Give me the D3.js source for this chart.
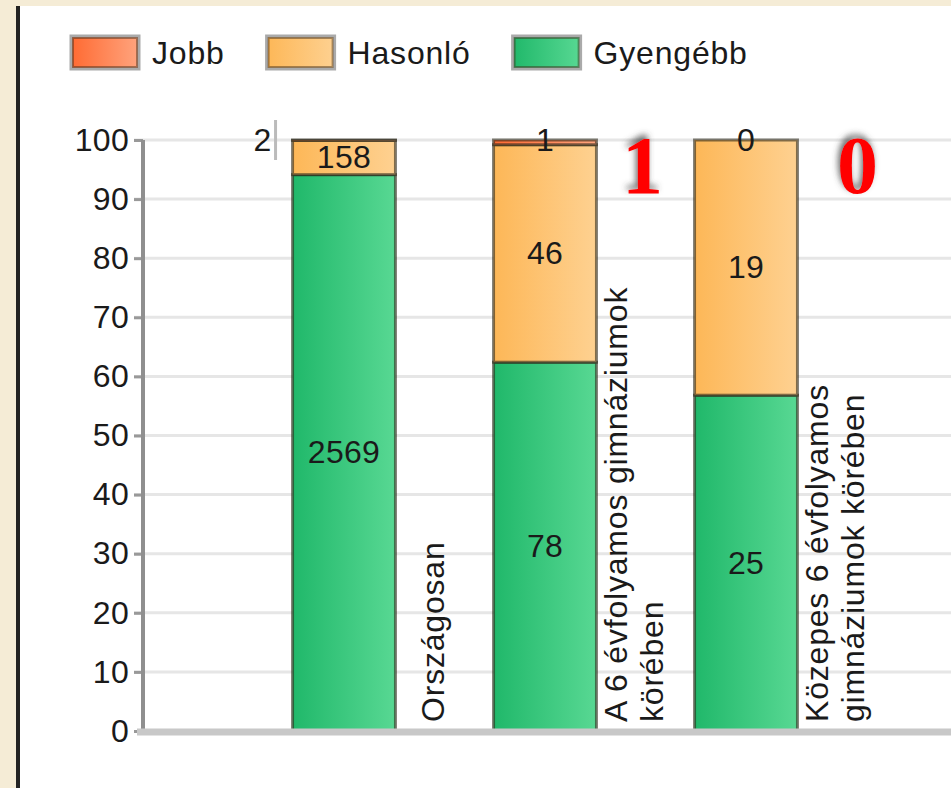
<!DOCTYPE html>
<html>
<head>
<meta charset="utf-8">
<script src="https://cdn.jsdelivr.net/npm/d3@7"></script>
<style>
  html, body { margin: 0; padding: 0; background: #f5ecd6; }
  svg { display: block; }
  text { font-family: "Liberation Sans", Arial, sans-serif; }
</style>
</head>
<body>
<div class="holder"></div>
<script>
// chart data
var categories = [
  ['Országosan'],
  ['A 6 évfolyamos gimnáziumok', 'körében'],
  ['Közepes 6 évfolyamos', 'gimnáziumok körében']
]
var series = ['Gyengébb', 'Hasonló', 'Jobb']
var gyengebb = [2569, 78, 25]
var hasonlo = [158, 46, 19]
var jobb = [2, 1, 0]
var legendOrder = ['Jobb', 'Hasonló', 'Gyengébb']
var yTicks = [0, 10, 20, 30, 40, 50, 60, 70, 80, 90, 100]
var redNotes = ['', '1', '0']

var width = 951, height = 788
var axisX = 143, yTop = 140, yBottom = 731
var fontSize = '32px', spacing = '0.8px'

var colors = {
  'Jobb': ['#ff6a32', '#ffa47e'],
  'Hasonló': ['#fdb757', '#fed191'],
  'Gyengébb': ['#20b86a', '#58d893']
}

var svg = d3.select('.holder')
  .append('svg')
  .attr('width', width)
  .attr('height', height)

var defs = svg.append('defs')
series.forEach(function(s, i) {
  var g = defs.append('linearGradient')
    .attr('id', 'grad' + i)
    .attr('x1', 0).attr('x2', 1).attr('y1', 0).attr('y2', 0)
  g.append('stop').attr('offset', '0%').attr('stop-color', colors[s][0])
  g.append('stop').attr('offset', '100%').attr('stop-color', colors[s][1])
})
var shadow = defs.append('filter').attr('id', 'shadow')
  .attr('x', '-50%').attr('y', '-50%').attr('width', '200%').attr('height', '200%')
shadow.append('feDropShadow')
  .attr('dx', -2).attr('dy', -4).attr('stdDeviation', 3)
  .attr('flood-color', '#444').attr('flood-opacity', 0.8)

// frame
svg.append('rect').attr('x', 20).attr('y', 6).attr('width', width - 20).attr('height', height - 6).attr('fill', '#fff')
svg.append('rect').attr('x', 16).attr('y', 6).attr('width', 4).attr('height', height - 6).attr('fill', '#222')

var catKeys = categories.map(function(c) { return c.join(' ') })

var xScale = d3.scaleBand()
  .domain(catKeys)
  .range([243.5, 846.5])
  .paddingInner(0.488)
  .paddingOuter(0.244)

var yScale = d3.scaleLinear()
  .domain([0, 100])
  .range([yBottom, yTop])

// gridlines
svg.append('g')
  .selectAll('line')
  .data(yTicks.slice(1))
  .enter()
  .append('line')
  .attr('x1', axisX - 9)
  .attr('x2', width)
  .attr('y1', function(d) { return yScale(d) })
  .attr('y2', function(d) { return yScale(d) })
  .attr('stroke', '#e6e6e6')
  .attr('stroke-width', 3)

var yAxis = d3.axisLeft(yScale)
  .tickValues(yTicks)
  .tickSize(9)
  .tickPadding(5)

var yChart = svg.append('g')
  .attr('transform', 'translate(' + axisX + ',0)')
  .call(yAxis)
yChart.select('.domain').remove()
yChart.selectAll('.tick line').attr('stroke', '#999').attr('stroke-width', 3)
yChart.selectAll('.tick text')
  .attr('fill', '#1a1a1a')
  .style('font-size', fontSize)
  .style('letter-spacing', '0.3px')
  .style('font-family', '"Liberation Sans", Arial, sans-serif')

// stacked percentage data
var rows = catKeys.map(function(k, i) {
  var total = gyengebb[i] + hasonlo[i] + jobb[i]
  var vals = [gyengebb[i], hasonlo[i], jobb[i]]
  var y0 = 0
  return vals.map(function(v, j) {
    var p = v / total * 100
    var seg = { cat: k, idx: i, s: j, value: v, y0: y0, y1: y0 + p }
    y0 += p
    return seg
  })
})

var bars = svg.append('g')
rows.forEach(function(r) {
  bars.selectAll(null)
    .data(r)
    .enter()
    .append('rect')
    .attr('x', function(d) { return xScale(d.cat) })
    .attr('y', function(d) { return yScale(d.y1) })
    .attr('width', xScale.bandwidth())
    .attr('height', function(d) { return yScale(d.y0) - yScale(d.y1) })
    .attr('fill', function(d) { return 'url(#grad' + d.s + ')' })
    .attr('stroke', 'rgba(45,40,25,0.6)')
    .attr('stroke-width', 3)
})

// axis line and baseline
svg.append('line')
  .attr('x1', axisX).attr('x2', axisX)
  .attr('y1', yScale(100)).attr('y2', yScale(0))
  .attr('stroke', '#8f8f8f').attr('stroke-width', 4)
svg.append('line')
  .attr('x1', axisX - 6).attr('x2', width)
  .attr('y1', yScale(0) + 1).attr('y2', yScale(0) + 1)
  .attr('stroke', '#c8c8c8').attr('stroke-width', 7)

// value labels
var labels = svg.append('g')
rows.forEach(function(r) {
  r.forEach(function(d) {
    var h = yScale(d.y0) - yScale(d.y1)
    var cx = xScale(d.cat) + xScale.bandwidth() / 2
    var cy = (yScale(d.y0) + yScale(d.y1)) / 2
    var anchor = 'middle'
    if (h < 10) {
      cy = yScale(100)
      var below = r[d.s - 1]
      if (below && yScale(below.y0) - yScale(below.y1) < 40) {
        // not enough room: put it left of the bar with a leader
        cx = xScale(d.cat) - 21
        anchor = 'end'
        labels.append('line')
          .attr('x1', cx + 4).attr('x2', cx + 4)
          .attr('y1', cy - 20).attr('y2', cy + 20)
          .attr('stroke', '#bbb').attr('stroke-width', 3)
      }
    }
    labels.append('text')
      .attr('x', cx)
      .attr('y', cy)
      .attr('dy', '0.33em')
      .attr('text-anchor', anchor)
      .attr('fill', '#1a1a1a')
      .style('font-size', fontSize)
      .style('letter-spacing', '0.3px')
      .text(d.value)
  })
})

// category labels (rotated)
categories.forEach(function(lines, i) {
  var k = catKeys[i]
  var base = xScale(k) + xScale.bandwidth() + 49
  var t = svg.append('text')
    .attr('transform', 'translate(0,722) rotate(-90)')
    .attr('fill', '#1a1a1a')
    .style('font-size', fontSize)
    .style('letter-spacing', spacing)
  lines.forEach(function(line, j) {
    t.append('tspan')
      .attr('x', 0)
      .attr('y', base + (j - (lines.length - 1) / 2) * 36)
      .text(line)
  })
})

// red annotations
var noteOffsets = [0, 46, 60]
redNotes.forEach(function(n, i) {
  if (!n) return
  svg.append('text')
    .attr('x', xScale(catKeys[i]) + xScale.bandwidth() + noteOffsets[i])
    .attr('y', 193)
    .attr('text-anchor', 'middle')
    .attr('fill', '#ff0000')
    .attr('filter', 'url(#shadow)')
    .style('font-family', '"Liberation Serif", "Times New Roman", serif')
    .style('font-weight', 'bold')
    .style('font-size', '82px')
    .text(n)
})

// legend
var legend = svg.append('g')
var lx = 71
legendOrder.forEach(function(name) {
  var si = series.indexOf(name)
  legend.append('rect')
    .attr('x', lx).attr('y', 36)
    .attr('width', 68).attr('height', 33)
    .attr('fill', 'url(#grad' + si + ')')
    .attr('stroke', '#aaa').attr('stroke-width', 3)
  legend.append('rect')
    .attr('x', lx + 2).attr('y', 38)
    .attr('width', 64).attr('height', 29)
    .attr('fill', 'none')
    .attr('stroke', 'rgba(60,40,20,0.45)').attr('stroke-width', 2)
  var txt = legend.append('text')
    .attr('x', lx + 81).attr('y', 52)
    .attr('dy', '0.36em')
    .attr('fill', '#1a1a1a')
    .style('font-size', fontSize)
    .style('letter-spacing', spacing)
    .text(name)
  lx = lx + 81 + txt.node().getComputedTextLength() + 42
})
</script>
</body>
</html>
